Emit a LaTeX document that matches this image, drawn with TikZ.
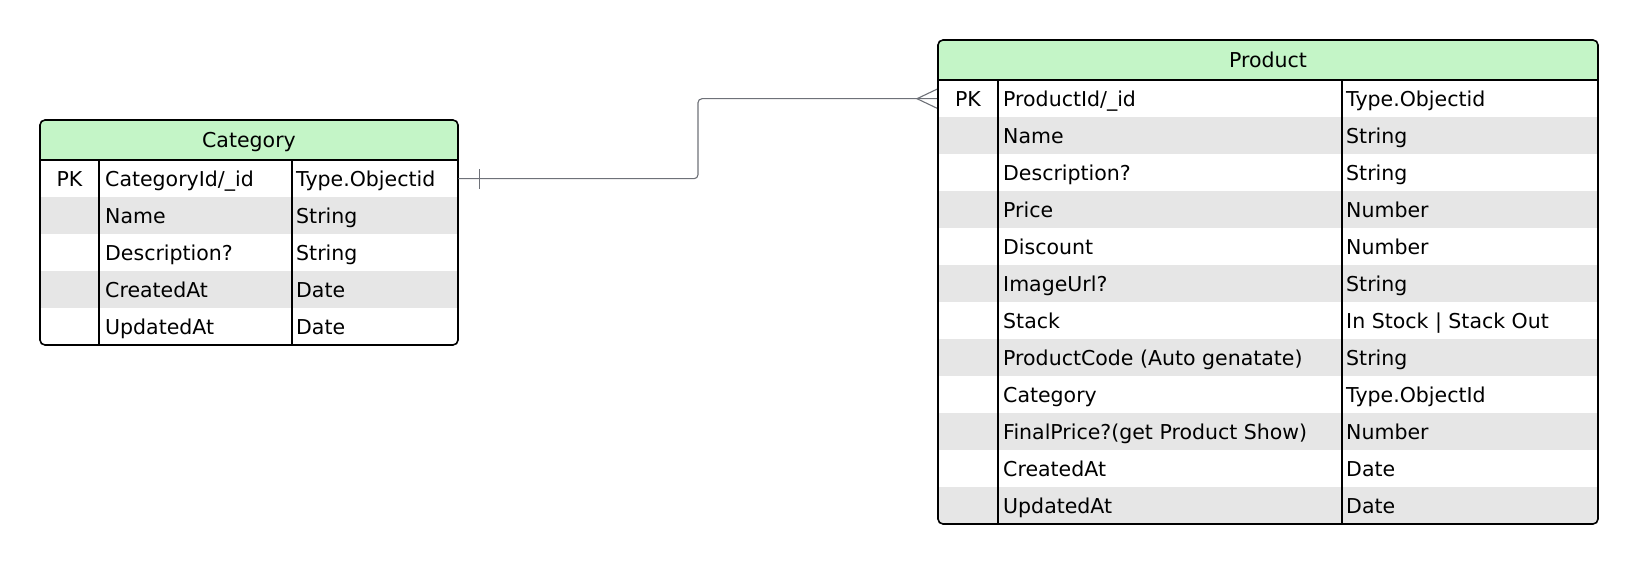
\documentclass[tikz,border=0pt]{standalone}
\usepackage{fontspec}
\setmainfont{DejaVu Sans}
\definecolor{hdrgreen}{HTML}{C4F5C7}
\definecolor{stripe}{HTML}{E6E6E6}
\definecolor{conncol}{HTML}{6E7178}
\begin{document}
\begin{tikzpicture}[x=1pt,y=-1pt,
  cell/.style={inner sep=0pt, font=\fontsize{20.5}{24}\selectfont, anchor=base west},
  pkcell/.style={cell, anchor=base},
  hdrtext/.style={cell, anchor=base},
  rowbox/.style={draw=none, inner sep=0pt, minimum height=37pt, anchor=north west},
  hdrbox/.style={draw=none, fill=hdrgreen, inner sep=0pt, minimum height=40pt, anchor=north west},
  tblline/.style={line width=1.6pt, black},
  connline/.style={line width=1.1pt, conncol}
]
\useasboundingbox (0,0) rectangle (1638,564);

% ---------------- Category ----------------
\begin{scope}
\clip[rounded corners=5] (40,120) rectangle (458,345);
\node[hdrbox, minimum width=418pt] (cath) at (40,120) {};
\node[rowbox, minimum width=418pt] (catr1) at (40,160) {};
\node[rowbox, minimum width=418pt, fill=stripe] (catr2) at (40,197) {};
\node[rowbox, minimum width=418pt] (catr3) at (40,234) {};
\node[rowbox, minimum width=418pt, fill=stripe] (catr4) at (40,271) {};
\node[rowbox, minimum width=418pt] (catr5) at (40,308) {};
\end{scope}
\node[hdrtext] (catt) at (249,148) {Category};
\node[pkcell] (catpk) at (69.5,186.5) {PK};
\node[cell] (catn1) at (105,186.5) {CategoryId/\_id};
\node[cell] (catt1) at (296,186.5) {Type.Objectid};
\node[cell] (catn2) at (105,223.5) {Name};
\node[cell] (catt2) at (296,223.5) {String};
\node[cell] (catn3) at (105,260.5) {Description?};
\node[cell] (catt3) at (296,260.5) {String};
\node[cell] (catn4) at (105,297.5) {CreatedAt};
\node[cell] (catt4) at (296,297.5) {Date};
\node[cell] (catn5) at (105,334.5) {UpdatedAt};
\node[cell] (catt5) at (296,334.5) {Date};
\draw[tblline] (40,160) -- (458,160);
\draw[tblline] (99,160) -- (99,345);
\draw[tblline] (292,160) -- (292,345);
\draw[tblline, rounded corners=5] (40,120) rectangle (458,345);

% ---------------- Product ----------------
\begin{scope}
\clip[rounded corners=5] (938,40) rectangle (1598,524);
\node[hdrbox, minimum width=660pt] (prodh) at (938,40) {};
\node[rowbox, minimum width=660pt] (prodr1) at (938,80) {};
\node[rowbox, minimum width=660pt, fill=stripe] (prodr2) at (938,117) {};
\node[rowbox, minimum width=660pt] (prodr3) at (938,154) {};
\node[rowbox, minimum width=660pt, fill=stripe] (prodr4) at (938,191) {};
\node[rowbox, minimum width=660pt] (prodr5) at (938,228) {};
\node[rowbox, minimum width=660pt, fill=stripe] (prodr6) at (938,265) {};
\node[rowbox, minimum width=660pt] (prodr7) at (938,302) {};
\node[rowbox, minimum width=660pt, fill=stripe] (prodr8) at (938,339) {};
\node[rowbox, minimum width=660pt] (prodr9) at (938,376) {};
\node[rowbox, minimum width=660pt, fill=stripe] (prodr10) at (938,413) {};
\node[rowbox, minimum width=660pt] (prodr11) at (938,450) {};
\node[rowbox, minimum width=660pt, fill=stripe] (prodr12) at (938,487) {};
\end{scope}
\node[hdrtext] (prodt) at (1268,68) {Product};
\node[pkcell] (prodpk) at (968,106.5) {PK};
\node[cell] (prodn1) at (1003,106.5) {ProductId/\_id};
\node[cell] (prodt1) at (1346,106.5) {Type.Objectid};
\node[cell] (prodn2) at (1003,143.5) {Name};
\node[cell] (prodt2) at (1346,143.5) {String};
\node[cell] (prodn3) at (1003,180.5) {Description?};
\node[cell] (prodt3) at (1346,180.5) {String};
\node[cell] (prodn4) at (1003,217.5) {Price};
\node[cell] (prodt4) at (1346,217.5) {Number};
\node[cell] (prodn5) at (1003,254.5) {Discount};
\node[cell] (prodt5) at (1346,254.5) {Number};
\node[cell] (prodn6) at (1003,291.5) {ImageUrl?};
\node[cell] (prodt6) at (1346,291.5) {String};
\node[cell] (prodn7) at (1003,328.5) {Stack};
\node[cell] (prodt7) at (1346,328.5) {In Stock | Stack Out};
\node[cell] (prodn8) at (1003,365.5) {ProductCode (Auto genatate)};
\node[cell] (prodt8) at (1346,365.5) {String};
\node[cell] (prodn9) at (1003,402.5) {Category};
\node[cell] (prodt9) at (1346,402.5) {Type.ObjectId};
\node[cell] (prodn10) at (1003,439.5) {FinalPrice?(get Product Show)};
\node[cell] (prodt10) at (1346,439.5) {Number};
\node[cell] (prodn11) at (1003,476.5) {CreatedAt};
\node[cell] (prodt11) at (1346,476.5) {Date};
\node[cell] (prodn12) at (1003,513.5) {UpdatedAt};
\node[cell] (prodt12) at (1346,513.5) {Date};
\draw[tblline] (938,80) -- (1598,80);
\draw[tblline] (998,80) -- (998,524);
\draw[tblline] (1342,80) -- (1342,524);

% ---------------- Connector ----------------
\coordinate (bend) at (698,0);
\draw[connline, rounded corners=4] (catr1.east) -| (bend |- prodr1.west) -- (prodr1.west);
\draw[connline] ([xshift=21pt,yshift=-10pt]catr1.east) -- ([xshift=21pt,yshift=10pt]catr1.east);
\draw[connline] ([yshift=10pt]prodr1.west) -- ([xshift=-21pt]prodr1.west) -- ([yshift=-10pt]prodr1.west);

\draw[tblline, rounded corners=5] (938,40) rectangle (1598,524);
\end{tikzpicture}
\end{document}
